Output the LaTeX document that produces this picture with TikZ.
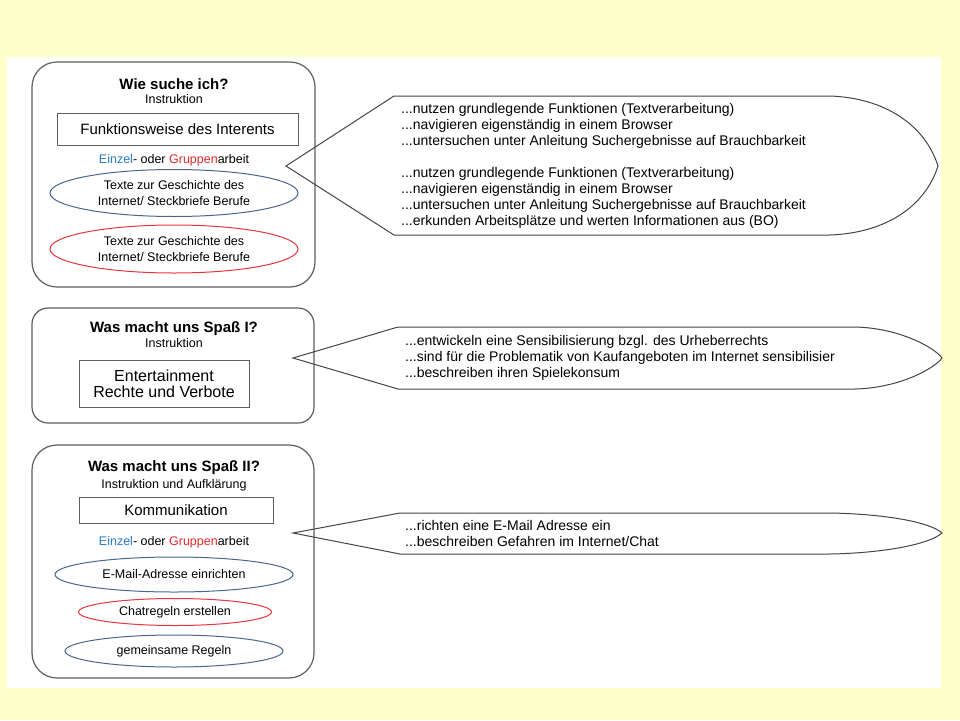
\documentclass[tikz,border=0pt]{standalone}
\usepackage{fontspec}
\setmainfont{Liberation Sans}
\usetikzlibrary{shapes.geometric}
\definecolor{bgyellow}{HTML}{FFFFCC}
\definecolor{boxgray}{HTML}{5F5F5F}
\definecolor{callgray}{HTML}{454545}
\definecolor{ellblue}{HTML}{4A6690}
\definecolor{ellred}{HTML}{E8343C}
\definecolor{einzelblue}{HTML}{2A7BC4}
\definecolor{gruppenred}{HTML}{E22B2B}
\tikzset{
  unitbox/.style={draw=boxgray,line width=1.2pt,rounded corners=#1},
  unitbox/.default=25pt,
  ttl/.style={anchor=base,font=\fontsize{15}{17}\selectfont\bfseries},
  sub/.style={anchor=base,font=\fontsize{12.5}{15}\selectfont},
  topic/.style={draw=boxgray,line width=1pt,inner sep=0pt,font=\fontsize{15}{16}\selectfont,align=center},
  task/.style={ellipse,draw=#1,line width=1pt,inner sep=0pt,font=\fontsize{12.5}{16}\selectfont,align=center},
  callout/.style={draw=callgray,line width=1pt,line join=miter},
  goals/.style={anchor=base west,inner sep=0pt,align=left,font=\fontsize{14}{16}\selectfont}
}
\newcommand{\sozialform}{\textcolor{einzelblue}{Einzel}- oder \textcolor{gruppenred}{Gruppen}arbeit}

\begin{document}
\begin{tikzpicture}[x=1pt,y=-1pt]
\useasboundingbox (0,0) rectangle (960,720);
\fill[bgyellow] (0,0) rectangle (960,720);
\fill[white] (7,57) rectangle (941,688);

% Wie suche ich?
\draw[unitbox] (32,62) rectangle (315,287);
\node[ttl] (t1) at (174,89) {Wie suche ich?};
\node[sub] (s1) at (174,103) {Instruktion};
\node[topic,minimum width=241pt,minimum height=32pt] (r1) at (177.5,129) {Funktionsweise des Interents};
\node[sub] (f1) at (174,163) {\sozialform};
\node[task=ellblue,minimum width=248pt,minimum height=47pt] (e1a) at (174,193) {Texte zur Geschichte des\\Internet/ Steckbriefe Berufe};
\node[task=ellred,minimum width=248pt,minimum height=48pt] (e1b) at (174,249) {Texte zur Geschichte des\\Internet/ Steckbriefe Berufe};

\draw[callout] (286,166) -- (394,96) -- (830,96)
  .. controls (885,98) and (925,125) .. (938,166)
  .. controls (925,207) and (885,233) .. (830,235) -- (394,235) -- cycle;
% base = last line
\node[goals] (g1) at (401,225) {...nutzen grundlegende Funktionen (Textverarbeitung)\\
...navigieren eigenständig in einem Browser\\
...untersuchen unter Anleitung Suchergebnisse auf Brauchbarkeit\\[16pt]
...nutzen grundlegende Funktionen (Textverarbeitung)\\
...navigieren eigenständig in einem Browser\\
...untersuchen unter Anleitung Suchergebnisse auf Brauchbarkeit\\
...erkunden Arbeitsplätze und werten Informationen aus (BO)};

% Was macht uns Spass I?
\draw[unitbox=16pt] (32,308) rectangle (314,423);
\node[ttl] (t2) at (174,332) {Was macht uns Spaß I?};
\node[sub] (s2) at (174,347.5) {Instruktion};
\node[topic,minimum width=170pt,minimum height=47pt,font=\fontsize{16}{16}\selectfont] (r2) at (164,383.5) {Entertainment\\Rechte und Verbote};

\draw[callout] (293,358) -- (398,327) -- (855,327)
  .. controls (900,328) and (935,348) .. (942,358)
  .. controls (935,368) and (900,388) .. (855,389) -- (398,389) -- cycle;
\node[goals] (g2) at (405,377) {...entwickeln eine Sensibilisierung bzgl. des Urheberrechts\\
...sind für die Problematik von Kaufangeboten im Internet sensibilisier\\
...beschreiben ihren Spielekonsum};

% Was macht uns Spass II?
\draw[unitbox] (32,445) rectangle (314,678);
\node[ttl] (t3) at (174,471.5) {Was macht uns Spaß II?};
\node[sub] (s3) at (174,488) {Instruktion und Aufklärung};
\node[topic,minimum width=194pt,minimum height=26pt] (r3) at (176,510) {Kommunikation};
\node[sub] (f3) at (174,545) {\sozialform};
\node[task=ellblue,minimum width=238pt,minimum height=35pt] (e3a) at (174,574.5) {E-Mail-Adresse einrichten};
\node[task=ellred,minimum width=193pt,minimum height=27pt] (e3b) at (175,612) {Chatregeln erstellen};
\node[task=ellblue,minimum width=218pt,minimum height=32pt] (e3c) at (174,651) {gemeinsame Regeln};

\draw[callout] (293,533) -- (400,513) -- (830,513)
  .. controls (885,514) and (930,522) .. (942,533)
  .. controls (930,544) and (885,553) .. (830,554) -- (400,554) -- cycle;
\node[goals] (g3) at (405,546) {...richten eine E-Mail Adresse ein\\
...beschreiben Gefahren im Internet/Chat};
\end{tikzpicture}
\end{document}
